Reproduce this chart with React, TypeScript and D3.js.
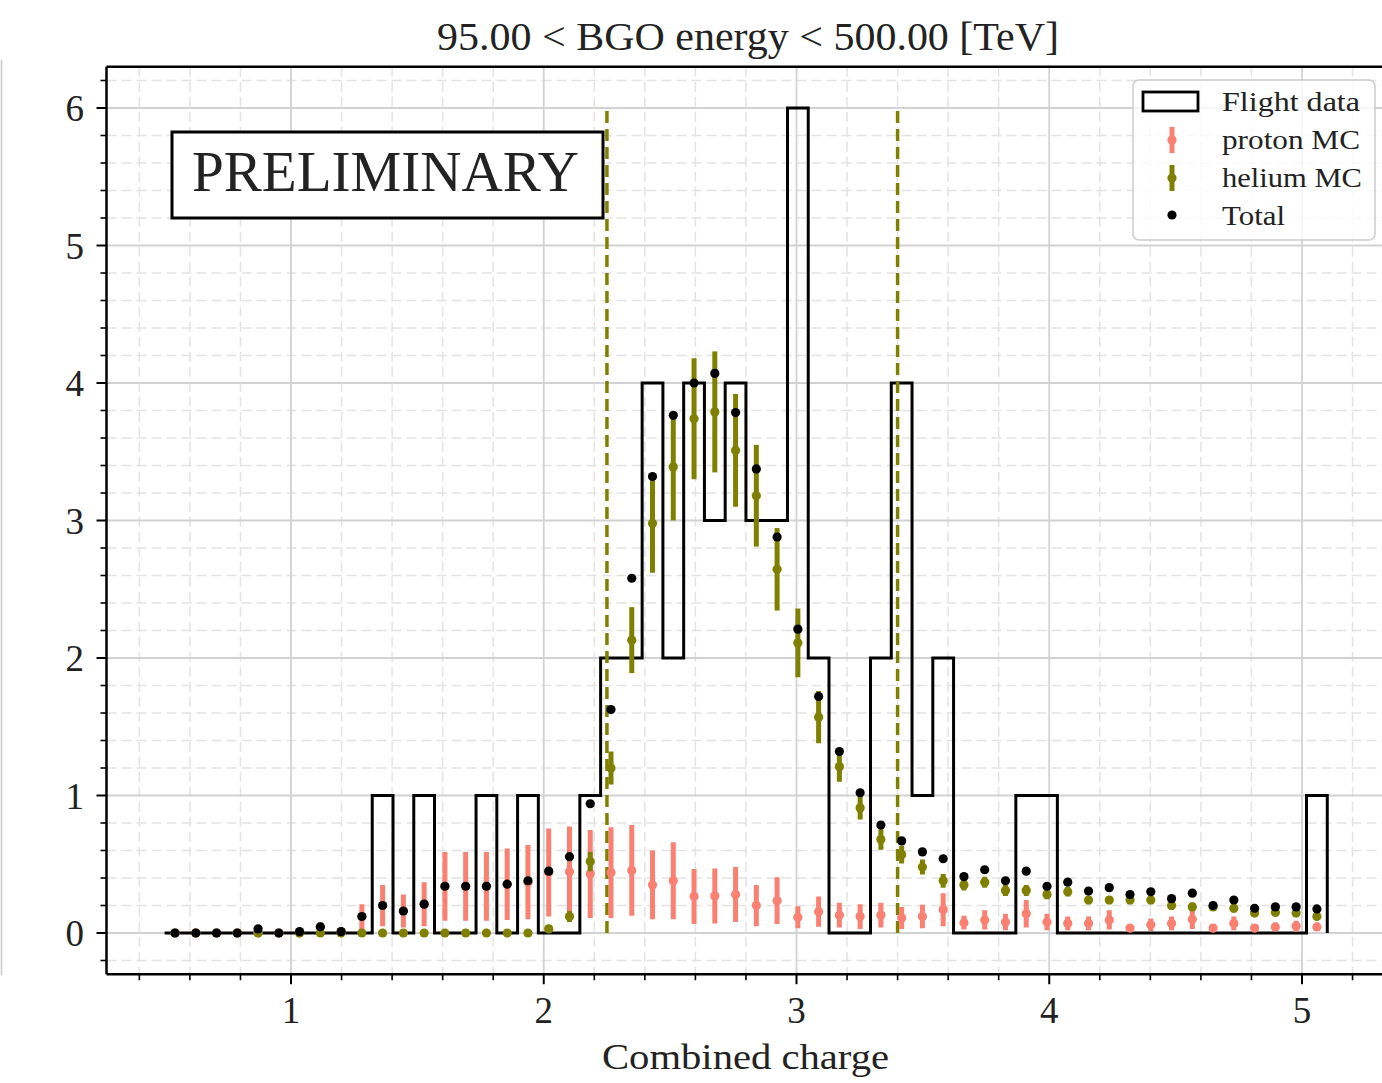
import React from "react";
import * as d3 from "d3";

// ---- data ----
const binLow = 0.5;
const binHigh = 5.1;
const nBins = 56;

const flightData = [
  0, 0, 0, 0, 0, 0, 0, 0, 0, 0,
  1, 0, 1, 0, 0, 1, 0, 1, 0, 0,
  1, 2, 2, 4, 2, 4, 3, 4, 3, 3,
  6, 2, 0, 0, 2, 4, 1, 2, 0, 0,
  0, 1, 1, 0, 0, 0, 0, 0, 0, 0,
  0, 0, 0, 0, 0, 1,
];

const totalMC = [
  0, 0, 0, 0, 0.03, 0, 0.01, 0.045, 0.01, 0.12,
  0.2, 0.16, 0.21, 0.34, 0.34, 0.34, 0.355, 0.38, 0.45, 0.555,
  0.94, 1.625, 2.58, 3.32, 3.765, 4.0, 4.07, 3.785, 3.375, 2.88,
  2.21, 1.72, 1.32, 1.02, 0.785, 0.67, 0.59, 0.54, 0.41, 0.46,
  0.38, 0.45, 0.34, 0.37, 0.305, 0.33, 0.28, 0.3, 0.25, 0.29,
  0.2, 0.24, 0.18, 0.19, 0.19, 0.175,
];

const heliumMC = [
  0, 0, 0, 0, 0, 0, 0, 0, 0, 0,
  0, 0, 0, 0, 0, 0, 0, 0, 0.03, 0.12,
  0.52, 1.2, 2.13, 2.98, 3.39, 3.74, 3.79, 3.51, 3.18, 2.645,
  2.11, 1.57, 1.21, 0.91, 0.68, 0.57, 0.48, 0.38, 0.35, 0.37,
  0.31, 0.31, 0.28, 0.3, 0.24, 0.24, 0.24, 0.24, 0.2, 0.19,
  0.19, 0.18, 0.145, 0.15, 0.145, 0.12,
];

const heliumErr = [
  0, 0, 0, 0, 0, 0, 0, 0, 0, 0,
  0, 0, 0, 0, 0, 0, 0, 0, 0.02, 0.04,
  0.07, 0.12, 0.24, 0.36, 0.39, 0.44, 0.44, 0.41, 0.37, 0.3,
  0.25, 0.19, 0.11, 0.085, 0.075, 0.065, 0.055, 0.05, 0.04, 0.04,
  0.04, 0.04, 0.035, 0.035, 0.03, 0.03, 0.03, 0.03, 0.03, 0.03,
  0.03, 0.03, 0.025, 0.025, 0.025, 0.02,
];

const protonMC = [
  0, 0, 0, 0, 0, 0, 0, 0.04, 0.01, 0.12,
  0.2, 0.16, 0.21, 0.34, 0.34, 0.34, 0.355, 0.37, 0.44, 0.445,
  0.43, 0.44, 0.455, 0.35, 0.38, 0.265, 0.27, 0.28, 0.2, 0.235,
  0.115, 0.155, 0.13, 0.12, 0.13, 0.11, 0.12, 0.17, 0.075, 0.095,
  0.08, 0.14, 0.08, 0.07, 0.07, 0.095, 0.036, 0.06, 0.07, 0.1,
  0.036, 0.07, 0.036, 0.044, 0.05, 0.044,
];

const protonErr = [
  0, 0, 0, 0, 0, 0, 0, 0.04, 0.01, 0.09,
  0.15, 0.12, 0.16, 0.25, 0.25, 0.25, 0.26, 0.27, 0.32, 0.33,
  0.32, 0.33, 0.33, 0.25, 0.28, 0.2, 0.2, 0.2, 0.15, 0.17,
  0.08, 0.11, 0.09, 0.09, 0.09, 0.08, 0.085, 0.12, 0.05, 0.07,
  0.06, 0.1, 0.06, 0.05, 0.05, 0.07, 0.03, 0.045, 0.05, 0.07,
  0.03, 0.05, 0.03, 0.03, 0.04, 0.03,
];

const chargeCuts = [2.25, 3.4];
const xMajorTicks = [1, 2, 3, 4, 5];
const yMajorTicks = [0, 1, 2, 3, 4, 5, 6];
const legendLabels = ["Flight data", "proton MC", "helium MC", "Total"];
const titleText = "95.00 < BGO energy < 500.00 [TeV]";
const xLabel = "Combined charge";
const stampText = "PRELIMINARY";

// ---- layout ----
const W = 1382;
const H = 1083;
const FONT = "'Liberation Serif', 'Times New Roman', serif";
const OLIVE = "#808000";
const SALMON = "#fa8072";

export default function App() {
  const x = d3.scaleLinear().domain([0.27, 5.33]).range([106.5, 1385.4]);
  const y = d3.scaleLinear().domain([-0.3, 6.3]).range([974.25, 66.75]);
  const [x0, x1] = x.range();
  const [yb, yt] = y.range();

  const binW = (binHigh - binLow) / nBins;
  const edges = d3.range(nBins + 1).map((i) => binLow + i * binW);
  const centers = d3.range(nBins).map((i) => binLow + (i + 0.5) * binW);

  const xMinor = d3.range(0.4, 5.3, 0.2).filter((v) => Math.abs(v - Math.round(v)) > 1e-6);
  const yMinor = d3.range(-0.2, 6.3, 0.2).filter((v) => Math.abs(v - Math.round(v)) > 1e-6);

  const stepPts: [number, number][] = [[edges[0], 0]];
  flightData.forEach((v, i) => {
    stepPts.push([edges[i], v]);
    stepPts.push([edges[i + 1], v]);
  });
  stepPts.push([edges[nBins], 0]);
  const stepPath = d3.line<[number, number]>().x((d) => x(d[0])).y((d) => y(d[1]))(stepPts) || "";

  const R = 4.6;

  return (
    <svg
      width={W}
      height={H}
      style={{ position: "absolute", left: 0, top: 0, display: "block", background: "#fff" }}
      fontFamily={FONT}
    >
      <rect x={0} y={0} width={W} height={H} fill="#fff" />
      <line x1={1.5} x2={1.5} y1={60} y2={975} stroke="#c8c8c8" strokeWidth={1.5} />

      <defs>
        <clipPath id="plotClip">
          <rect x={x0} y={yt} width={x1 - x0} height={yb - yt} />
        </clipPath>
      </defs>

      <g clipPath="url(#plotClip)">
        {xMinor.map((v) => (
          <line key={"gx" + v} x1={x(v)} x2={x(v)} y1={yt} y2={yb} stroke="#e3e3e3" strokeWidth={1.5} strokeDasharray="10,5" />
        ))}
        {yMinor.map((v) => (
          <line key={"gy" + v} x1={x0} x2={x1} y1={y(v)} y2={y(v)} stroke="#e3e3e3" strokeWidth={1.5} strokeDasharray="10,5" />
        ))}
        {xMajorTicks.map((v) => (
          <line key={"Gx" + v} x1={x(v)} x2={x(v)} y1={yt} y2={yb} stroke="#d2d2d2" strokeWidth={1.8} />
        ))}
        {yMajorTicks.map((v) => (
          <line key={"Gy" + v} x1={x0} x2={x1} y1={y(v)} y2={y(v)} stroke="#d2d2d2" strokeWidth={1.8} />
        ))}
      </g>

      <g clipPath="url(#plotClip)">
        <path d={stepPath} fill="none" stroke="#000" strokeWidth={3} strokeLinejoin="miter" />

        {chargeCuts.map((c) => (
          <line key={"cut" + c} x1={x(c)} x2={x(c)} y1={y(0)} y2={y(6)} stroke={OLIVE} strokeWidth={3.5} strokeDasharray="12,6" />
        ))}

        {centers.map((c, i) => (
          <g key={"p" + i}>
            <line x1={x(c)} x2={x(c)} y1={y(protonMC[i] - protonErr[i])} y2={y(protonMC[i] + protonErr[i])} stroke={SALMON} strokeWidth={5} />
            <circle cx={x(c)} cy={y(protonMC[i])} r={R} fill={SALMON} />
          </g>
        ))}

        {centers.map((c, i) => (
          <g key={"h" + i}>
            <line x1={x(c)} x2={x(c)} y1={y(heliumMC[i] - heliumErr[i])} y2={y(heliumMC[i] + heliumErr[i])} stroke={OLIVE} strokeWidth={5} />
            <circle cx={x(c)} cy={y(heliumMC[i])} r={R} fill={OLIVE} />
          </g>
        ))}

        {centers.map((c, i) => (
          <circle key={"t" + i} cx={x(c)} cy={y(totalMC[i])} r={R} fill="#000" />
        ))}
      </g>

      <line x1={x0} x2={x0} y1={yt} y2={yb} stroke="#000" strokeWidth={2.5} />
      <line x1={x0} x2={x1} y1={yb} y2={yb} stroke="#000" strokeWidth={2.5} />
      <line x1={x0} x2={x1} y1={yt} y2={yt} stroke="#000" strokeWidth={2.5} />
      <line x1={x1} x2={x1} y1={yt} y2={yb} stroke="#000" strokeWidth={2.5} />

      {xMinor.map((v) => (
        <line key={"tx" + v} x1={x(v)} x2={x(v)} y1={yb} y2={yb + 6} stroke="#000" strokeWidth={1.6} />
      ))}
      {xMajorTicks.map((v) => (
        <g key={"TX" + v}>
          <line x1={x(v)} x2={x(v)} y1={yb} y2={yb + 10} stroke="#000" strokeWidth={2} />
          <text x={x(v)} y={1023} fontSize={37} textAnchor="middle" fill="#222">{v}</text>
        </g>
      ))}
      {yMinor.map((v) => (
        <line key={"ty" + v} x1={x0} x2={x0 - 6} y1={y(v)} y2={y(v)} stroke="#000" strokeWidth={1.6} />
      ))}
      {yMajorTicks.map((v) => (
        <g key={"TY" + v}>
          <line x1={x0} x2={x0 - 10} y1={y(v)} y2={y(v)} stroke="#000" strokeWidth={2} />
          <text x={84} y={y(v) + 13} fontSize={37} textAnchor="end" fill="#222">{v}</text>
        </g>
      ))}

      <text x={748} y={50} fontSize={39} textAnchor="middle" textLength={622} lengthAdjust="spacingAndGlyphs" fill="#222">{titleText}</text>
      <text x={745.5} y={1069} fontSize={36} textAnchor="middle" textLength={287} lengthAdjust="spacingAndGlyphs" fill="#222">{xLabel}</text>

      <rect x={172} y={132} width={431} height={86} fill="#fff" stroke="#000" strokeWidth={3} />
      <text x={192} y={191} fontSize={57} textLength={387} lengthAdjust="spacingAndGlyphs" fill="#222">{stampText}</text>

      <g>
        <rect x={1133} y={80} width={242} height={160} rx={6} ry={6} fill="#fff" fillOpacity={0.8} stroke="#cccccc" strokeWidth={1.5} />
        <rect x={1143} y={92} width={55} height={19} fill="#fff" stroke="#000" strokeWidth={2.8} />
        <line x1={1172} x2={1172} y1={127} y2={153} stroke={SALMON} strokeWidth={5} />
        <circle cx={1172} cy={140} r={R} fill={SALMON} />
        <line x1={1172} x2={1172} y1={165} y2={191} stroke={OLIVE} strokeWidth={5} />
        <circle cx={1172} cy={178} r={R} fill={OLIVE} />
        <circle cx={1172} cy={215} r={R} fill="#000" />
        {legendLabels.map((lab, i) => (
          <text
            key={lab}
            x={1222}
            y={111 + i * 38}
            fontSize={28}
            fill="#222"
            textLength={[138, 138, 140, 63][i]}
            lengthAdjust="spacingAndGlyphs"
          >
            {lab}
          </text>
        ))}
      </g>
    </svg>
  );
}
